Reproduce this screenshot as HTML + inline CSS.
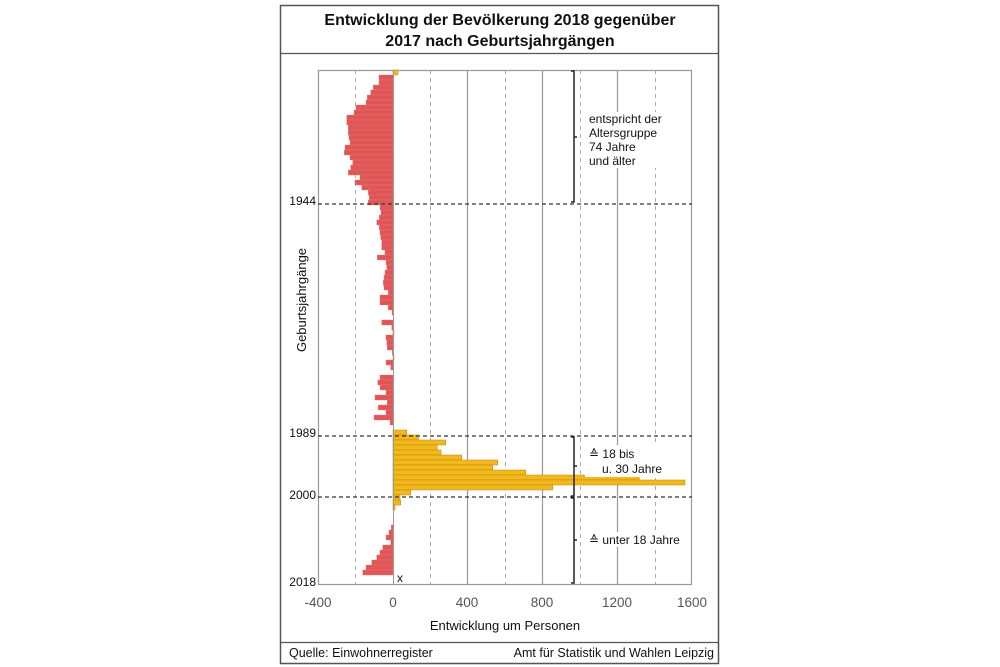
<!DOCTYPE html>
<html><head><meta charset="utf-8"><style>
body{margin:0;background:#fff;}
svg{display:block;font-family:"Liberation Sans",Arial,sans-serif;}
</style></head><body>
<svg width="1000" height="667" viewBox="0 0 1000 667" xmlns="http://www.w3.org/2000/svg">
<rect x="0" y="0" width="1000" height="667" fill="#fff"/>
<!-- frame -->
<rect x="280.5" y="5.5" width="438" height="658" fill="#fff" stroke="#555" stroke-width="1.5"/>
<line x1="280" y1="53.5" x2="719" y2="53.5" stroke="#555" stroke-width="1.2"/>
<line x1="280" y1="642.5" x2="719" y2="642.5" stroke="#555" stroke-width="1.2"/>
<text x="500" y="25" text-anchor="middle" font-size="16" font-weight="bold" fill="#111">Entwicklung der Bevölkerung 2018 gegenüber</text>
<text x="500" y="46" text-anchor="middle" font-size="16" font-weight="bold" fill="#111">2017 nach Geburtsjahrgängen</text>
<!-- grid -->
<g stroke="#aaa" stroke-width="1" stroke-dasharray="4,4">
<line x1="355.5" y1="70" x2="355.5" y2="585"/>
<line x1="430.5" y1="70" x2="430.5" y2="585"/>
<line x1="505.5" y1="70" x2="505.5" y2="585"/>
<line x1="580.5" y1="70" x2="580.5" y2="585"/>
<line x1="655.5" y1="70" x2="655.5" y2="585"/>
</g>
<g stroke="#999" stroke-width="1.2">
<line x1="467.5" y1="70" x2="467.5" y2="585"/>
<line x1="542.5" y1="70" x2="542.5" y2="585"/>
<line x1="617.5" y1="70" x2="617.5" y2="585"/>
</g>
<rect x="318.5" y="70.5" width="373" height="514" fill="none" stroke="#999" stroke-width="1.2"/>
<!-- bars -->
<g fill="#e05555" stroke="#e97a7a" stroke-width="0.4">
<rect x="379" y="75" width="14" height="5"/>
<rect x="379" y="80" width="14" height="5"/>
<rect x="373.3" y="85" width="19.7" height="5"/>
<rect x="370.7" y="90" width="22.3" height="5"/>
<rect x="367.3" y="95" width="25.7" height="5"/>
<rect x="366" y="100" width="27" height="5"/>
<rect x="356" y="105" width="37" height="5"/>
<rect x="354" y="110" width="39" height="5"/>
<rect x="346.7" y="115" width="46.3" height="5"/>
<rect x="346.7" y="120" width="46.3" height="5"/>
<rect x="348.3" y="125" width="44.7" height="5"/>
<rect x="348.3" y="130" width="44.7" height="5"/>
<rect x="349" y="135" width="44" height="5"/>
<rect x="350" y="140" width="43" height="5"/>
<rect x="345" y="145" width="48" height="5"/>
<rect x="344.3" y="150" width="48.7" height="5"/>
<rect x="350" y="155" width="43" height="5"/>
<rect x="352.7" y="160" width="40.3" height="5"/>
<rect x="350.7" y="165" width="42.3" height="5"/>
<rect x="348.3" y="170" width="44.7" height="5"/>
<rect x="360" y="175" width="33" height="5"/>
<rect x="355" y="180" width="38" height="5"/>
<rect x="361.7" y="185" width="31.3" height="5"/>
<rect x="368.3" y="190" width="24.7" height="5"/>
<rect x="369.3" y="195" width="23.7" height="5"/>
<rect x="368.3" y="200" width="24.7" height="5"/>
<rect x="380" y="205" width="13" height="5"/>
<rect x="381" y="210" width="12" height="5"/>
<rect x="379.3" y="215" width="13.7" height="5"/>
<rect x="376.7" y="220" width="16.3" height="5"/>
<rect x="379.3" y="225" width="13.7" height="5"/>
<rect x="380" y="230" width="13" height="5"/>
<rect x="380.7" y="235" width="12.3" height="5"/>
<rect x="381.7" y="240" width="11.3" height="5"/>
<rect x="381.7" y="245" width="11.3" height="5"/>
<rect x="385" y="250" width="8" height="5"/>
<rect x="377.3" y="255" width="15.7" height="5"/>
<rect x="386" y="260" width="7" height="5"/>
<rect x="386.7" y="265" width="6.3" height="5"/>
<rect x="385" y="270" width="8" height="5"/>
<rect x="384" y="275" width="9" height="5"/>
<rect x="383.3" y="280" width="9.7" height="5"/>
<rect x="384" y="285" width="9" height="5"/>
<rect x="388.3" y="290" width="4.7" height="5"/>
<rect x="380" y="295" width="13" height="5"/>
<rect x="380" y="300" width="13" height="5"/>
<rect x="388.3" y="305" width="4.7" height="5"/>
<rect x="392" y="310" width="1" height="5"/>
<rect x="381.7" y="320" width="11.3" height="5"/>
<rect x="391.7" y="325" width="1.3" height="5"/>
<rect x="386" y="335" width="7" height="5"/>
<rect x="386.7" y="340" width="6.3" height="5"/>
<rect x="387.3" y="345" width="5.7" height="5"/>
<rect x="392.3" y="350" width="0.7" height="5"/>
<rect x="386" y="360" width="7" height="5"/>
<rect x="390.7" y="365" width="2.3" height="5"/>
<rect x="380" y="375" width="13" height="5"/>
<rect x="377.7" y="380" width="15.3" height="5"/>
<rect x="380" y="385" width="13" height="5"/>
<rect x="386" y="390" width="7" height="5"/>
<rect x="375" y="395" width="18" height="5"/>
<rect x="387.3" y="400" width="5.7" height="5"/>
<rect x="378.3" y="405" width="14.7" height="5"/>
<rect x="386" y="410" width="7" height="5"/>
<rect x="374" y="415" width="19" height="5"/>
<rect x="390" y="420" width="3" height="5"/>
<rect x="391.3" y="525" width="1.7" height="5"/>
<rect x="389" y="530" width="4" height="5"/>
<rect x="386" y="535" width="7" height="5"/>
<rect x="390.7" y="540" width="2.3" height="5"/>
<rect x="382.7" y="545" width="10.3" height="5"/>
<rect x="380" y="550" width="13" height="5"/>
<rect x="376.7" y="555" width="16.3" height="5"/>
<rect x="371.7" y="560" width="21.3" height="5"/>
<rect x="366" y="565" width="27" height="5"/>
<rect x="362.7" y="570" width="30.3" height="5"/>
</g>
<g fill="#f3b81c" stroke="#b8860b" stroke-width="0.5">
<rect x="393" y="70" width="5" height="5"/>
<rect x="393" y="330" width="1" height="5"/>
<rect x="393" y="355" width="1" height="5"/>
<rect x="393" y="430" width="13.7" height="5"/>
<rect x="393" y="435" width="25.3" height="5"/>
<rect x="393" y="440" width="52.7" height="5"/>
<rect x="393" y="445" width="44.3" height="5"/>
<rect x="393" y="450" width="48" height="5"/>
<rect x="393" y="455" width="68.7" height="5"/>
<rect x="393" y="460" width="104.7" height="5"/>
<rect x="393" y="465" width="99.7" height="5"/>
<rect x="393" y="470" width="132.7" height="5"/>
<rect x="393" y="475" width="246.3" height="5"/>
<rect x="393" y="480" width="292" height="5"/>
<rect x="393" y="485" width="159.7" height="5"/>
<rect x="393" y="490" width="17.7" height="5"/>
<rect x="393" y="495" width="7" height="5"/>
<rect x="393" y="500" width="7.7" height="5"/>
<rect x="393" y="505" width="2" height="5"/>
</g>
<line x1="393.5" y1="70" x2="393.5" y2="585" stroke="#999" stroke-width="1"/>
<!-- horizontal dashed year lines -->
<g stroke="#333" stroke-width="1.2" stroke-dasharray="4,3">
<line x1="318" y1="204" x2="692" y2="204"/>
<line x1="318" y1="436" x2="692" y2="436"/>
<line x1="318" y1="497" x2="692" y2="497"/>
</g>
<!-- brackets -->
<g stroke="#222" stroke-width="1.5" fill="none">
<path d="M571,71 H574 V202 H571"/><line x1="574" y1="137" x2="577" y2="137"/>
<path d="M571,437 H574 V496 H571"/><line x1="574" y1="466" x2="577" y2="466"/>
<path d="M571,498 H574 V583 H571"/><line x1="574" y1="540" x2="577" y2="540"/>
</g>
<!-- annotation boxes -->
<rect x="585" y="112" width="80" height="56" fill="#fff"/>
<text font-size="12" fill="#111"><tspan x="589" y="123">entspricht der</tspan><tspan x="589" y="137">Altersgruppe</tspan><tspan x="589" y="151">74 Jahre</tspan><tspan x="589" y="165">und älter</tspan></text>
<rect x="585" y="445" width="90" height="32" fill="#fff"/>
<text font-size="12" fill="#111"><tspan x="589" y="458">≙ 18 bis</tspan><tspan x="602" y="473">u. 30 Jahre</tspan></text>
<rect x="585" y="532" width="105" height="15" fill="#fff"/>
<text x="589" y="544" font-size="12" fill="#111">≙ unter 18 Jahre</text>
<!-- y labels -->
<g font-size="12" fill="#111" text-anchor="end">
<text x="316" y="205">1944</text>
<text x="316" y="437">1989</text>
<text x="316" y="499">2000</text>
<text x="316" y="586">2018</text>
</g>
<text x="397" y="582" font-size="12" fill="#111">x</text>
<text transform="translate(306,300) rotate(-90)" text-anchor="middle" font-size="13" fill="#111">Geburtsjahrgänge</text>
<!-- x labels -->
<g font-size="13.5" fill="#555" text-anchor="middle">
<text x="318" y="607">-400</text>
<text x="393" y="607">0</text>
<text x="467" y="607">400</text>
<text x="542" y="607">800</text>
<text x="617" y="607">1200</text>
<text x="692" y="607">1600</text>
</g>
<text x="505" y="630" text-anchor="middle" font-size="13" fill="#111">Entwicklung um Personen</text>
<text x="289" y="657" font-size="12.5" fill="#111">Quelle: Einwohnerregister</text>
<text x="714" y="657" text-anchor="end" font-size="12.5" fill="#111">Amt für Statistik und Wahlen Leipzig</text>
</svg>
</body></html>
